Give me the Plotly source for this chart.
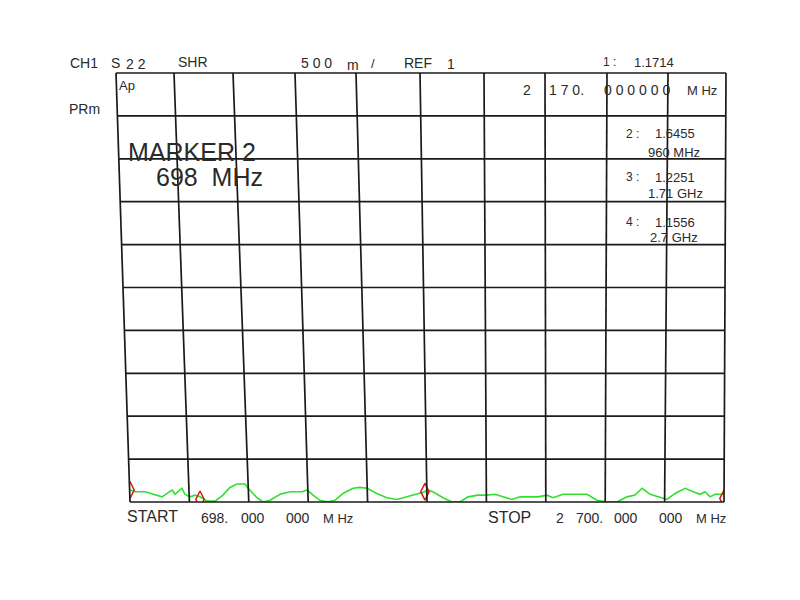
import plotly.graph_objects as go

# ---- data ----
freq_mhz = [698, 715, 749, 776, 806, 823, 840, 850, 873, 883, 900, 917, 934, 958, 985,
            1011, 1035, 1059, 1086, 1096, 1126, 1146, 1170, 1204, 1237, 1278, 1295, 1315,
            1338, 1365, 1389, 1416, 1450, 1473, 1497, 1530, 1564, 1598, 1632, 1665, 1692,
            1699, 1719, 1753, 1783, 1810, 1837, 1871, 1901, 1928, 1955, 1985, 2012, 2046,
            2073, 2103, 2124, 2157, 2238, 2272, 2306, 2339, 2373, 2400, 2424, 2451, 2484,
            2508, 2535, 2569, 2596, 2619, 2636, 2653, 2670, 2700]
swr = [1.14, 1.12, 1.12, 1.09, 1.06, 1.10, 1.14, 1.09, 1.16, 1.09, 1.06, 1.08, 1.06, 1.01, 1.01,
       1.08, 1.17, 1.21, 1.21, 1.16, 1.05, 1.00, 1.02, 1.09, 1.12, 1.12, 1.14, 1.08,
       1.02, 1.00, 1.02, 1.10, 1.16, 1.17, 1.16, 1.10, 1.05, 1.03, 1.06, 1.09, 1.12,
       1.14, 1.12, 1.05, 1.00, 1.00, 1.06, 1.08, 1.08, 1.09, 1.06, 1.03, 1.06, 1.06,
       1.06, 1.08, 1.05, 1.09, 1.09, 1.02, 1.00, 1.00, 1.06, 1.08, 1.16, 1.09, 1.05,
       1.03, 1.10, 1.16, 1.12, 1.09, 1.12, 1.06, 1.09, 1.09]

marker_freq = [698, 934, 1692, 2700]
marker_swr = [1.14, 1.03, 1.12, 1.04]

marker_list_ids = ["2 :", "3 :", "4 :"]
marker_list_values = ["1.6455", "1.2251", "1.1556"]
marker_list_freqs = ["960 MHz", "1.71 GHz", "2.7 GHz"]

start_mhz = 698
stop_mhz = 2700
ref_value = 1
per_div = 0.5
n_div = 10

# ---- layout geometry (page pixels); page body has an 8px margin ----
OFF = 8
W, H = 800 - OFF, 600 - OFF
L, R, T, B = 130, 724, 73, 502

def px(x):
    return (x - L) / (R - L)

def py(y):
    return (B - y) / (B - T)

fig = go.Figure()

# grid (slightly skewed like the photographed screen)
top_x = [116, 174, 233, 295, 356, 420, 484, 545, 607, 668, 726]
shapes = []
for i in range(n_div + 1):
    shapes.append(dict(type="line", xref="paper", yref="paper",
                       x0=i / n_div, y0=0, x1=px(top_x[i]), y1=1,
                       line=dict(color="#1a1a1a", width=1.7)))
for j in range(n_div + 1):
    y = j / n_div
    xl = px(130 + (116 - 130) * y)
    shapes.append(dict(type="line", xref="paper", yref="paper",
                       x0=xl, y0=y, x1=px(724 + 2 * y), y1=y,
                       line=dict(color="#1a1a1a", width=1.7)))

fig.add_trace(go.Scatter(x=freq_mhz, y=swr, mode="lines",
                         line=dict(color="#2fe02f", width=1.6), hoverinfo="skip"))
fig.add_trace(go.Scatter(x=marker_freq, y=marker_swr, mode="markers",
                         marker=dict(symbol="diamond-tall-open", size=12,
                                     color="#e01515", line=dict(width=1.5, color="#e01515")),
                         hoverinfo="skip"))

font = "Liberation Sans, Arial, sans-serif"
tc = "#2a2a2a"
ann = []
nb = "\u00a0"

def text(x, y, s, size=13, anchor="left", color=tc):
    ann.append(dict(xref="paper", yref="paper", x=px(x), y=py(y), text=s.replace(" ", nb),
                    showarrow=False, xanchor=anchor, yanchor="middle",
                    font=dict(family=font, size=size, color=color)))

# header
text(68, 63, "CH1", 14)
text(109, 63, "S", 14)
text(124, 64, "2 2", 14)
text(176, 62, "SHR", 14)
text(299, 63, "5 0 0", 14)
text(345, 65, "m", 14)
text(369, 64, "/", 13)
text(402, 63, "REF", 14)
text(445, 64, str(ref_value), 14)
text(601, 62, "1 :", 12)
text(632, 62, "1.1714", 13)
text(117, 85, "Ap", 13)
text(67, 109, "PRm", 14)

# center frequency readout
text(521, 90, "2", 14)
text(547, 90, "1 7 0.", 14)
text(602, 90, "0 0 0 0 0 0", 14)
text(719, 90, "M Hz", 13, anchor="right")

text(126, 152, "MARKER 2", 25)
text(154, 177, "698  MHz", 25)

ys_lab = [134, 177, 222]
ys_fr = [152, 193, 238]
x_fr = [702, 705, 700]
for mid, val, fr, yl, yf, xf in zip(marker_list_ids, marker_list_values, marker_list_freqs,
                                    ys_lab, ys_fr, x_fr):
    text(624, yl, mid, 12)
    text(653, yl, val, 13)
    text(xf, yf, fr, 13, anchor="right")

# start / stop
text(125, 516, "START", 16)
text(199, 518, f"{start_mhz}.", 14)
text(239, 518, "000", 14)
text(284, 518, "000", 14)
text(321, 518, "M Hz", 13)
text(486, 517, "STOP", 16)
text(554, 518, str(stop_mhz // 1000), 14)
text(574, 518, f"{stop_mhz % 1000:03d}.", 14)
text(612, 518, "000", 14)
text(657, 518, "000", 14)
text(694, 518, "M Hz", 13)

fig.update_layout(
    width=W, height=H,
    margin=dict(l=L - OFF, r=800 - R, t=T - OFF, b=600 - B, pad=0),
    paper_bgcolor="white", plot_bgcolor="white",
    showlegend=False,
    shapes=shapes, annotations=ann,
    xaxis=dict(range=[start_mhz, stop_mhz], showgrid=False, zeroline=False,
               showticklabels=False, ticks="", showline=False),
    yaxis=dict(range=[ref_value, ref_value + per_div * n_div], showgrid=False,
               zeroline=False, showticklabels=False, ticks="", showline=False),
)

fig.write_html("out.html")
